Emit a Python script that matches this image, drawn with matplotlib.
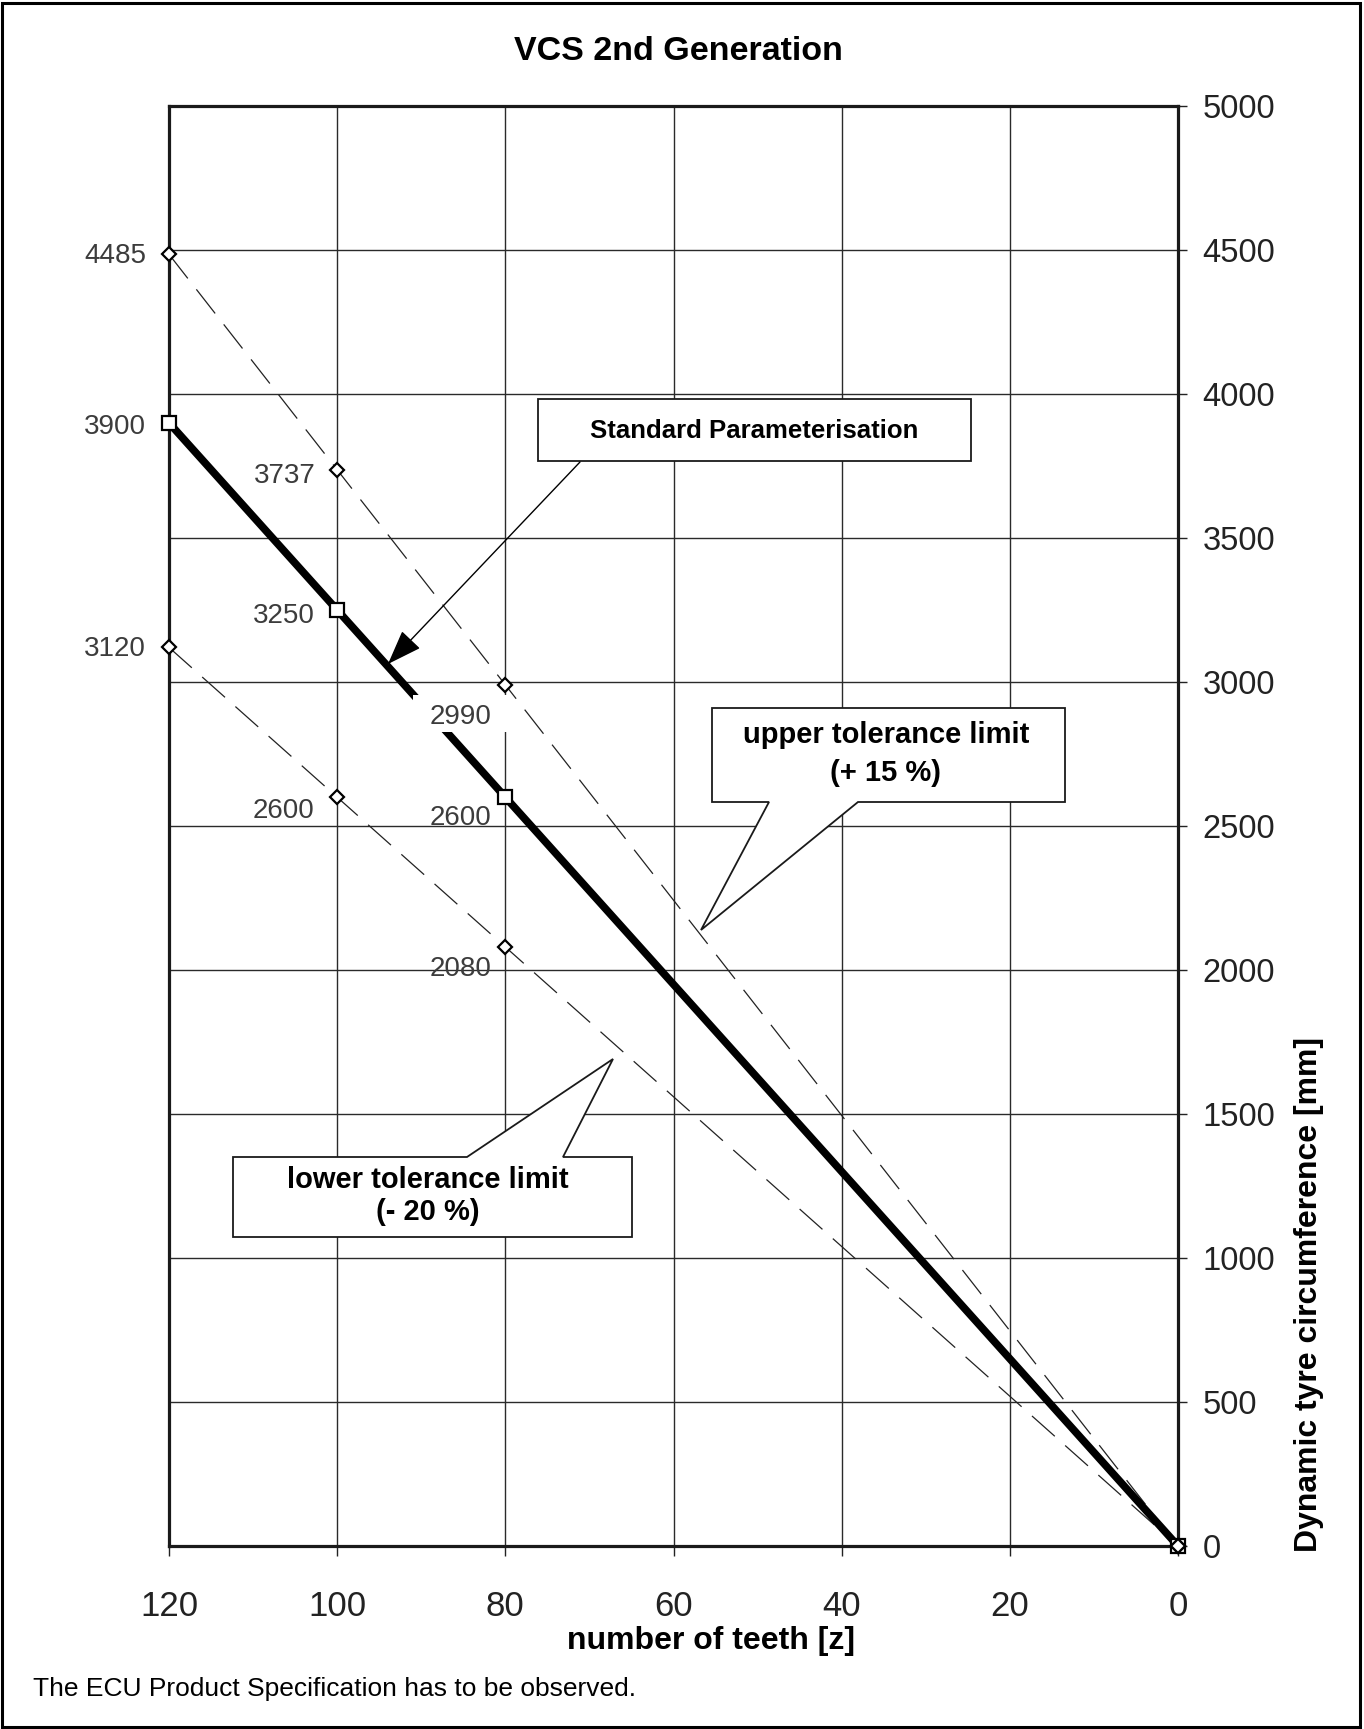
import matplotlib
matplotlib.use('Agg')
import matplotlib.pyplot as plt
from matplotlib.patches import Polygon, Rectangle

plt.rcParams['font.family'] = ['Liberation Sans', 'DejaVu Sans']
plt.rcParams['lines.scale_dashes'] = False

# ---- data ----
teeth = [120, 100, 80, 0]
standard = [3900, 3250, 2600, 0]
upper = [4485, 3737, 2990, 0]
lower = [3120, 2600, 2080, 0]

x_ticks = [120, 100, 80, 60, 40, 20, 0]
y_ticks = [0, 500, 1000, 1500, 2000, 2500, 3000, 3500, 4000, 4500, 5000]

# value labels: (teeth, value, dx px, dy px)
value_labels = [
    (120, 4485, -23, -2), (120, 3900, -23, -4), (120, 3120, -23, -2),
    (100, 3737, -22, -6), (100, 3250, -22, -6), (100, 2600, -23, -14),
    (80, 2990, -14, -32), (80, 2600, -14, -21), (80, 2080, -14, -22),
]

W, H = 1364, 1729
fig = plt.figure(figsize=(W / 100, H / 100), dpi=100)
L, R, T, B = 169, 1178, 106, 1546
ax = fig.add_axes([L / W, 1 - B / H, (R - L) / W, (B - T) / H])
ax.set_xlim(120, 0)
ax.set_ylim(0, 5000)

ax.set_xticks(x_ticks)
ax.set_yticks(y_ticks)
ax.grid(True, color='#2a2a2a', lw=1.0, zorder=0.5)
ax.set_axisbelow(True)
ax.yaxis.tick_right()
ax.tick_params(axis='y', which='both', right=True, left=False, length=6.5,
               width=1, labelsize=23.5, pad=11, colors='#222222')
ax.tick_params(axis='x', bottom=True, length=7, width=1, labelsize=25,
               pad=24.5, colors='#222222')
for s in ax.spines.values():
    s.set_linewidth(2.3)
    s.set_color('#1a1a1a')


# helper: pixel -> data
def px(xp, yp):
    return ((R - xp) / (R - L) * 120, (B - yp) / (B - T) * 5000)


# lines
ax.plot(teeth, upper, color='#222222', lw=0.9, dashes=(22, 10), zorder=2)
ax.plot(teeth, lower, color='#222222', lw=0.9, dashes=(22, 10), zorder=2)
ax.plot(teeth, standard, color='black', lw=5.5, solid_capstyle='butt', zorder=3)

# markers
ax.plot(teeth, standard, ls='none', marker='s', ms=10, mfc='white',
        mec='black', mew=1.6, zorder=8, clip_on=False)
ax.plot(teeth, upper, ls='none', marker='D', ms=7.5, mfc='white',
        mec='black', mew=1.6, zorder=8, clip_on=False)
ax.plot(teeth, lower, ls='none', marker='D', ms=7.5, mfc='white',
        mec='black', mew=1.6, zorder=8, clip_on=False)

# white patch behind the "2990" label (interrupts the lines there)
(bx0, by0), (bx1, by1) = px(413, 732), px(509, 695)
ax.add_patch(Rectangle((bx1, by0), bx0 - bx1, by1 - by0, fc='white',
                       ec='none', zorder=5))

# value labels
for x, v, dx, dy in value_labels:
    ax.annotate(str(v), (x, v), xytext=(dx, dy), textcoords='offset pixels',
                ha='right', va='center', fontsize=20, color='#3c3c3c',
                zorder=6, annotation_clip=False)

# Standard Parameterisation callout
x0, y0 = px(538, 399)
x1, y1 = px(971, 461)
ax.add_patch(Polygon([(x0, y0), (x1, y0), (x1, y1), (x0, y1)], closed=True,
                     fc='white', ec='#1a1a1a', lw=1.3, zorder=4))
cx, cy = px(754, 431)
ax.text(cx, cy, 'Standard Parameterisation', ha='center', va='center',
        fontsize=18.5, fontweight='bold', zorder=5)
ax.annotate('', xy=px(388, 664), xytext=px(580, 462),
            arrowprops=dict(arrowstyle='-|>,head_length=2.2,head_width=0.8',
                            color='black', lw=1.0, shrinkA=0, shrinkB=0,
                            mutation_scale=10), zorder=4)

# upper tolerance callout (speech bubble)
pts = [px(712, 708), px(1065, 708), px(1065, 802), px(858, 802),
       px(701, 930), px(769, 802), px(712, 802)]
ax.add_patch(Polygon(pts, closed=True, fc='white', ec='#1a1a1a', lw=1.3,
                     zorder=4))
cx, cy = px(886, 754)
ax.text(cx, cy, 'upper tolerance limit\n(+ 15 %)', ha='center', va='center',
        fontsize=21, fontweight='bold', linespacing=1.45, zorder=5)

# lower tolerance callout (speech bubble)
pts = [px(233, 1157), px(467, 1157), px(613, 1059), px(563, 1157),
       px(632, 1157), px(632, 1237), px(233, 1237)]
ax.add_patch(Polygon(pts, closed=True, fc='white', ec='#1a1a1a', lw=1.3,
                     zorder=4))
cx, cy = px(428, 1196)
ax.text(cx, cy, 'lower tolerance limit\n(- 20 %)', ha='center', va='center',
        fontsize=21, fontweight='bold', linespacing=1.15, zorder=5)

# titles and labels
fig.text(678 / W, 1 - 51 / H, 'VCS 2nd Generation', ha='center', va='center',
         fontsize=24.5, fontweight='bold')
fig.text(711 / W, 1 - 1641 / H, 'number of teeth [z]', ha='center',
         va='center', fontsize=23, fontweight='bold')
fig.text(1309 / W, 1 - 1295 / H, 'Dynamic tyre circumference [mm]',
         ha='center', va='center', rotation=90, fontsize=23,
         fontweight='bold')
fig.text(33 / W, 1 - 1689 / H,
         'The ECU Product Specification has to be observed.',
         ha='left', va='center', fontsize=19)

fig.add_artist(Rectangle((0.0015, 0.001), 0.9955, 0.997,
                         transform=fig.transFigure, fill=False, lw=2.2,
                         ec='black'))

fig.savefig('out.png', dpi=100)
